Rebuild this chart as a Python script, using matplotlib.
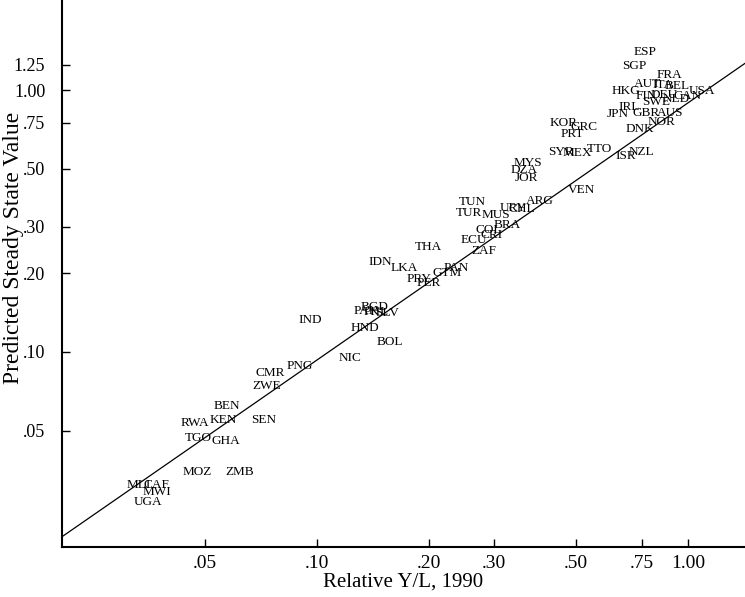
import numpy as np
import matplotlib
matplotlib.use("Agg")
import matplotlib.pyplot as plt
from matplotlib.ticker import FixedLocator, NullLocator

plt.rcParams['font.family'] = ['Liberation Serif', 'DejaVu Serif']

# country codes, relative Y/L in 1990 and predicted steady state value
codes = ["ESP", "SGP", "FRA", "AUT", "ITA", "BEL", "USA", "HKG", "FIN", "DEU",
         "CAN", "NLD", "SWE", "IRL", "JPN", "GBR", "AUS", "NOR", "DNK",
         "KOR", "GRC", "PRT", "SYR", "MEX", "TTO", "ISR", "NZL", "VEN",
         "MYS", "DZA", "JOR", "ARG", "URY", "CHL", "TUN", "TUR", "MUS", "BRA",
         "COL", "CRI", "ECU", "ZAF", "THA", "IDN", "LKA", "PAN", "GTM", "PRY",
         "PER", "BGD", "PAK", "PHL", "SLV", "HND", "BOL", "IND", "NIC", "PNG",
         "CMR", "ZWE", "BEN", "KEN", "RWA", "SEN", "TGO", "GHA", "MOZ", "ZMB",
         "MLI", "CAF", "MWI", "UGA"]
actual = [0.766, 0.715, 0.894, 0.780, 0.856, 0.934, 1.091, 0.681, 0.770, 0.862,
          1.000, 0.928, 0.820, 0.693, 0.648, 0.770, 0.894, 0.851, 0.742,
          0.463, 0.524, 0.487, 0.455, 0.505, 0.576, 0.681, 0.747, 0.515,
          0.370, 0.361, 0.368, 0.399, 0.338, 0.357, 0.262, 0.257, 0.304, 0.325,
          0.291, 0.296, 0.265, 0.282, 0.200, 0.148, 0.172, 0.237, 0.224, 0.188,
          0.200, 0.143, 0.136, 0.144, 0.155, 0.135, 0.157, 0.096, 0.123, 0.090,
          0.075, 0.073, 0.057, 0.056, 0.047, 0.072, 0.048, 0.057, 0.0475, 0.062,
          0.033, 0.037, 0.037, 0.035]
predicted = [1.401, 1.238, 1.144, 1.057, 1.048, 1.039, 0.994, 0.994, 0.951, 0.959,
             0.951, 0.926, 0.902, 0.863, 0.812, 0.819, 0.819, 0.756, 0.711,
             0.750, 0.724, 0.681, 0.581, 0.576, 0.597, 0.561, 0.581, 0.416,
             0.527, 0.496, 0.462, 0.377, 0.355, 0.352, 0.374, 0.340, 0.334, 0.306,
             0.292, 0.280, 0.268, 0.243, 0.252, 0.221, 0.209, 0.209, 0.200, 0.190,
             0.183, 0.148, 0.143, 0.142, 0.141, 0.123, 0.109, 0.132, 0.095, 0.088,
             0.083, 0.074, 0.062, 0.055, 0.0535, 0.055, 0.047, 0.0456, 0.0348, 0.0348,
             0.031, 0.031, 0.029, 0.0267]

# 45-degree reference line
line_x = [0.0205, 1.43]
line_y = [0.0196, 1.27]

xticks = [0.05, 0.10, 0.20, 0.30, 0.50, 0.75, 1.00]
xlabels = [".05", ".10", ".20", ".30", ".50", ".75", "1.00"]
yticks = [0.05, 0.10, 0.20, 0.30, 0.50, 0.75, 1.00, 1.25]
ylabels = [".05", ".10", ".20", ".30", ".50", ".75", "1.00", "1.25"]

fig = plt.figure(figsize=(7.45, 5.97), dpi=100)
ax = fig.add_axes([62 / 745, 50 / 597, 683 / 745, 547 / 597])
ax.set_xscale("log")
ax.set_yscale("log")
ax.set_xlim(0.02055, 1.425)
ax.set_ylim(0.01795, 2.21)

ax.plot(line_x, line_y, color="black", lw=0.9)
for c, xv, yv in zip(codes, actual, predicted):
    ax.text(xv, yv, c, fontsize=9.5, ha="center", va="center", color="black")

ax.xaxis.set_major_locator(FixedLocator(xticks))
ax.xaxis.set_minor_locator(NullLocator())
ax.set_xticklabels(xlabels, fontsize=14)
ax.yaxis.set_major_locator(FixedLocator(yticks))
ax.yaxis.set_minor_locator(NullLocator())
ax.set_yticklabels(ylabels, fontsize=13)
ax.tick_params(direction="in", length=6, width=1)
ax.tick_params(axis="x", pad=6)
ax.tick_params(axis="y", pad=12)

ax.spines["top"].set_visible(False)
ax.spines["right"].set_visible(False)
ax.spines["left"].set_linewidth(1.5)
ax.spines["bottom"].set_linewidth(1.5)

ax.set_xlabel("Relative Y/L, 1990", fontsize=15, labelpad=0)
ax.set_ylabel("Predicted Steady State Value", fontsize=17)
ax.yaxis.set_label_coords(-38 / 683, 0.547)

fig.savefig("out.png", dpi=100)
